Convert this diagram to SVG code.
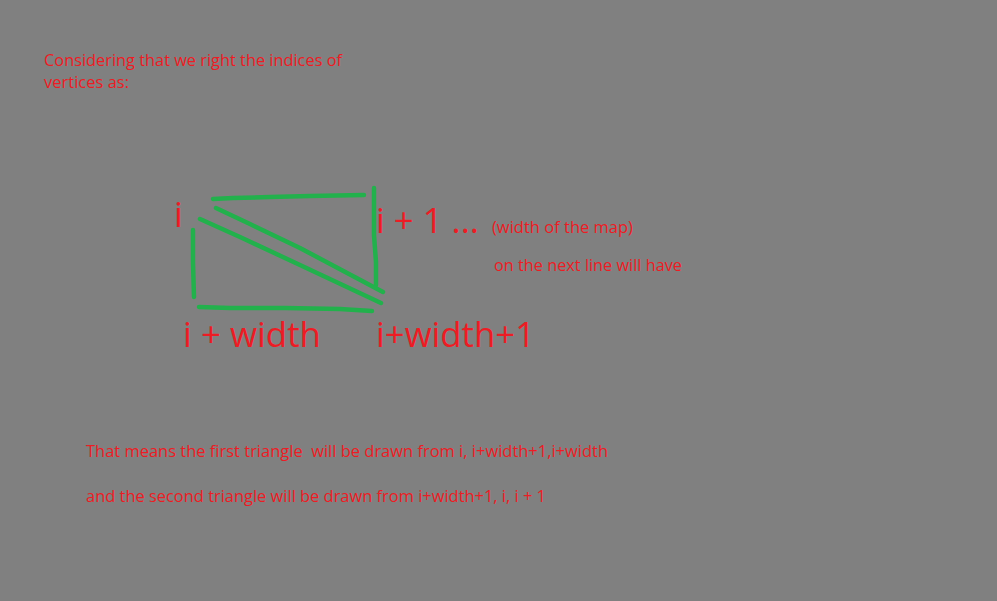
<svg xmlns="http://www.w3.org/2000/svg" width="997" height="601" viewBox="0 0 997 601">
<style>
.t{font-family:"Open Sans","Liberation Sans",sans-serif;fill:#ed1c24}
.s{font-size:16px}
.b{font-size:35px}
.g{fill:none;stroke:#22b14c;stroke-width:4.5;stroke-linecap:round;stroke-linejoin:round}
</style>
<rect width="997" height="601" fill="#808080"/>
<g id="intro">
<text class="t s" x="44" y="66" textLength="298" lengthAdjust="spacingAndGlyphs">Considering that we right the indices of</text>
<text class="t s" x="44" y="88" textLength="85" lengthAdjust="spacingAndGlyphs">vertices as:</text>
</g>
<g id="connectors">
<path class="g" d="M213,199 L233,198 L270,197 L310,196 L364,195"/>
<path class="g" d="M374,188 L374,235 L376,262 L376,285"/>
<path class="g" d="M216,208 L250,224 L300,248 L383,292"/>
<path class="g" d="M200,219 L240,237 L300,265 L381,303"/>
<path class="g" d="M193,230 L193,262 L194,297"/>
<path class="g" d="M199,307 L230,308 L285,308 L340,309 L372,311"/>
</g>
<g id="node-i"><text class="t b" x="174" y="227">i</text></g>
<g id="node-i1">
<text class="t b" x="376" y="233" textLength="103" lengthAdjust="spacingAndGlyphs">i + 1 ...</text>
<text class="t s" x="492" y="233" textLength="141" lengthAdjust="spacingAndGlyphs">(width of the map)</text>
<text class="t s" x="494" y="271" textLength="188" lengthAdjust="spacingAndGlyphs">on the next line will have</text>
</g>
<g id="node-iw"><text class="t b" x="183" y="347" textLength="138" lengthAdjust="spacingAndGlyphs">i + width</text></g>
<g id="node-iw1"><text class="t b" x="376" y="347" textLength="159" lengthAdjust="spacingAndGlyphs">i+width+1</text></g>
<g id="explanation">
<text class="t s" x="86" y="457" textLength="522" lengthAdjust="spacingAndGlyphs" xml:space="preserve">That means the first triangle  will be drawn from i, i+width+1,i+width</text>
<text class="t s" x="86" y="502" textLength="460" lengthAdjust="spacingAndGlyphs">and the second triangle will be drawn from i+width+1, i, i + 1</text>
</g>
</svg>
